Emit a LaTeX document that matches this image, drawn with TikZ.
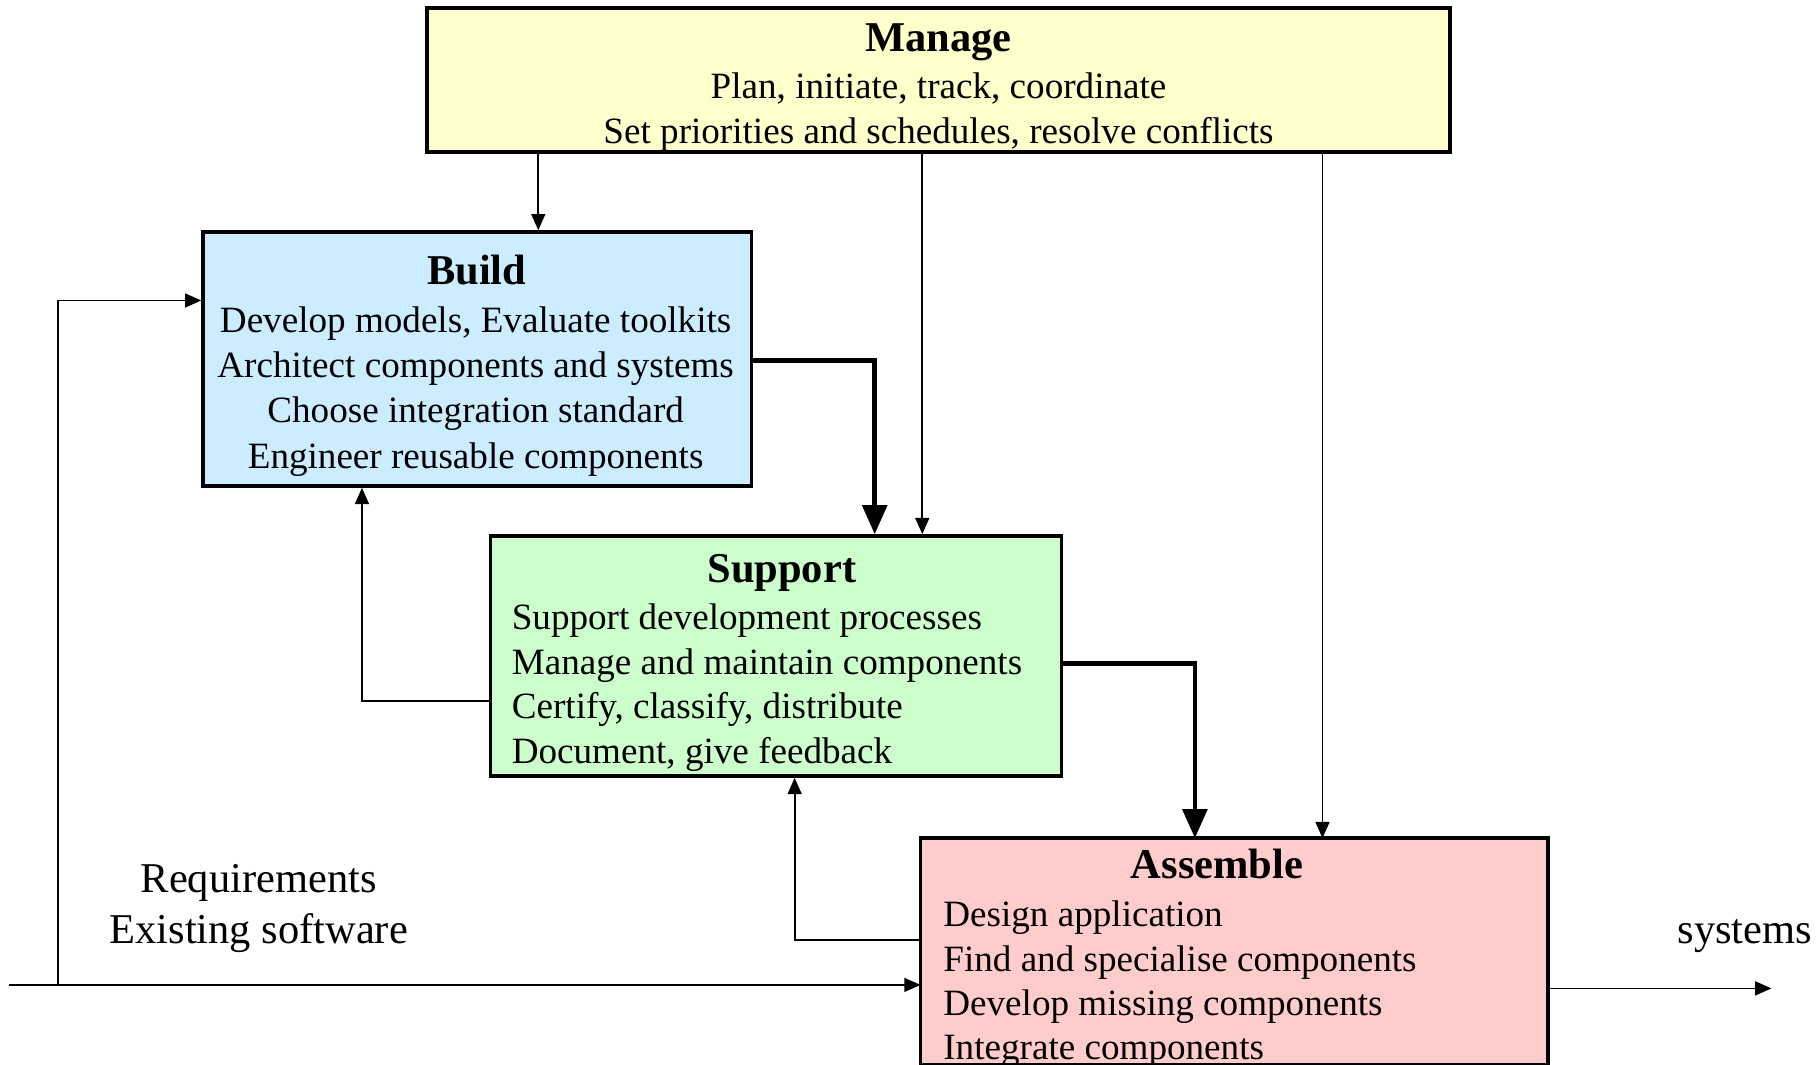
\documentclass[tikz,border=0pt]{standalone}
\usepackage{fontspec}
\setmainfont{Liberation Serif}
\usetikzlibrary{arrows.meta}

\definecolor{manageY}{HTML}{FFFFCC}
\definecolor{buildB}{HTML}{CCECFF}
\definecolor{supportG}{HTML}{CCFFCC}
\definecolor{assembleR}{HTML}{FFCCCC}

\begin{document}
\begin{tikzpicture}[x=1pt,y=-1pt,
  box/.style={draw, line width=3pt, inner sep=0pt},
  ctrl/.style={line width=1.5pt, -{Triangle[length=14pt,width=12pt]}},
  mainflow/.style={line width=4pt, -{Triangle[length=25pt,width=21pt]}},
  body/.style={font=\fontsize{32}{39}\selectfont, inner sep=0pt, text height=22pt, text depth=7pt},
  heading/.style={font=\fontsize{36.6}{40}\selectfont\bfseries, inner sep=0pt, text height=25pt, text depth=8pt},
  outer/.style={font=\fontsize{36.6}{40}\selectfont, inner sep=0pt, text height=25pt, text depth=8pt}]

\useasboundingbox (0,0) rectangle (1568,918);

% activity boxes
\node[box, fill=manageY,   minimum width=882pt, minimum height=124pt] (manage)   at (809,69)   {};
\node[box, fill=buildB,    minimum width=473pt, minimum height=219pt] (build)    at (411.5,309.5) {};
\node[box, fill=supportG,  minimum width=492pt, minimum height=207pt] (support)  at (669,565.5) {};
\node[box, draw=none, fill=assembleR, minimum width=538pt, minimum height=192pt] (assemble) at (1064,820) {};

% box contents
\node[heading] (manageT) at (809,36) {Manage};
\node[body] (m1) at (809,77)  {Plan, initiate, track, coordinate};
\node[body] (m2) at (809,116) {Set priorities and schedules, resolve conflicts};

\node[heading] (buildT) at (411,237) {Build};
\node[body] (b1) at (410,279) {Develop models, Evaluate toolkits};
\node[body] (b2) at (410,318) {Architect components and systems};
\node[body] (b3) at (410,357) {Choose integration standard};
\node[body] (b4) at (410,396) {Engineer reusable components};

\node[heading] (supportT) at (674,494) {Support};
\node[body, anchor=west] (s1) at (441,535) {Support development processes};
\node[body, anchor=west] (s2) at (441,574) {Manage and maintain components};
\node[body, anchor=west] (s3) at (441,612) {Certify, classify, distribute};
\node[body, anchor=west] (s4) at (441,651) {Document, give feedback};

\node[heading] (assembleT) at (1049,749) {Assemble};
\node[body, anchor=west] (a1) at (813,791) {Design application};
\node[body, anchor=west] (a2) at (813,830) {Find and specialise components};
\node[body, anchor=west] (a3) at (813,868) {Develop missing components};
\node[body, anchor=west] (a4) at (813,906) {Integrate components};
% outline drawn over the overflowing last line
\draw[line width=3pt] (assemble.north west) rectangle (assemble.south east);

% outside labels
\node[outer] (req) at (223,761) {Requirements};
\node[outer] (ext) at (223,805) {Existing software};
\node[outer] (sys) at (1504,805) {systems};

% connector guide positions
\coordinate (xMB) at (464,0);
\coordinate (xMS) at (795,0);
\coordinate (xMA) at (1140,0);
\coordinate (yBS) at (0,311);
\coordinate (xBS) at (754,0);
\coordinate (ySA) at (0,572);
\coordinate (xSA) at (1030,0);
\coordinate (ySB) at (0,604);
\coordinate (xSB) at (312,0);
\coordinate (yAS) at (0,810);
\coordinate (xAS) at (685,0);
\coordinate (inStart) at (8,849);
\coordinate (inBranch) at (50,849);
\coordinate (yIB) at (0,259);
\coordinate (outEnd) at (1527,852);

% management control
\draw[ctrl] (manage.south -| xMB) -- (build.north -| xMB);
\draw[ctrl] (manage.south -| xMS) -- (support.north -| xMS);
\draw[ctrl] (manage.south -| xMA) -- (assemble.north -| xMA);

% main flow
\draw[mainflow] (build.east |- yBS) -| (support.north -| xBS);
\draw[mainflow] (support.east |- ySA) -| (assemble.north -| xSA);

% feedback
\draw[ctrl] (support.west |- ySB) -| (build.south -| xSB);
\draw[ctrl] (assemble.west |- yAS) -| (support.south -| xAS);

% inputs and outputs
\draw[ctrl] (inStart) -- (assemble.west |- inStart);
\draw[ctrl] (inBranch) |- (build.west |- yIB);
\draw[ctrl] (assemble.east |- outEnd) -- (outEnd);

\end{tikzpicture}
\end{document}
